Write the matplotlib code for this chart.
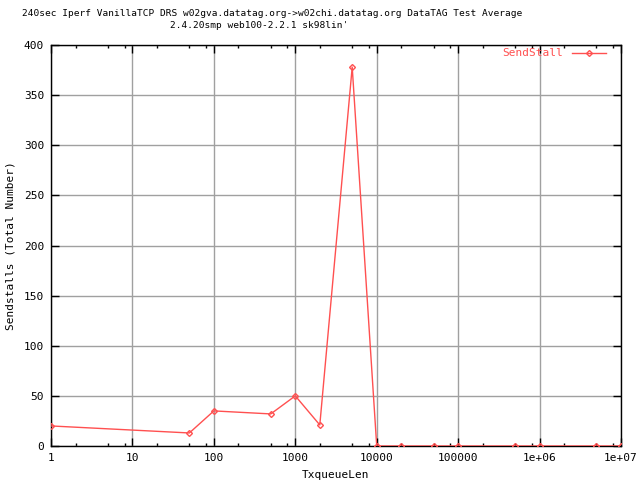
import matplotlib
matplotlib.use("Agg")
import matplotlib.pyplot as plt
from matplotlib.ticker import FixedLocator, LogLocator, NullFormatter

# data
txqueuelen = [1, 50, 100, 500, 1000, 2000, 5000, 10000, 20000, 50000,
              100000, 500000, 1000000, 5000000, 10000000]
sendstalls = [20, 13, 35, 32, 50, 21, 378, 0, 0, 0, 0, 0, 0, 0, 0]

x_ticks = [1, 10, 100, 1000, 10000, 100000, 1000000, 10000000]
x_tick_labels = ["1", "10", "100", "1000", "10000", "100000", "1e+06", "1e+07"]
y_ticks = [0, 50, 100, 150, 200, 250, 300, 350, 400]

title_line1 = "240sec Iperf VanillaTCP DRS w02gva.datatag.org->w02chi.datatag.org DataTAG Test Average"
title_line2 = "2.4.20smp web100-2.2.1 sk98lin'"

plt.rcParams["font.family"] = ["DejaVu Sans Mono"]
plt.rcParams["font.size"] = 8

fig = plt.figure(figsize=(6.4, 4.8), dpi=100)
ax = fig.add_axes([51 / 640, 1 - 446 / 480, 570 / 640, 401 / 480])

red = "#ff5050"
ax.plot(txqueuelen, sendstalls, color=red, linewidth=1, marker="D",
        markersize=3, markerfacecolor="none", markeredgecolor=red,
        markeredgewidth=1, label="SendStall", zorder=3)

ax.set_xscale("log")
ax.set_xlim(1, 1e7)
ax.set_ylim(0, 400)
ax.xaxis.set_major_locator(FixedLocator(x_ticks))
ax.set_xticklabels(x_tick_labels)
ax.xaxis.set_minor_locator(LogLocator(base=10, subs=[2, 5, 8], numticks=20))
ax.xaxis.set_minor_formatter(NullFormatter())
ax.set_yticks(y_ticks)

ax.tick_params(which="both", direction="in", top=True, right=True,
               color="black", pad=5)
ax.tick_params(which="major", length=5.5, width=1)
ax.tick_params(which="minor", length=2.5, width=1)
for s in ax.spines.values():
    s.set_color("black")
    s.set_linewidth(1)

ax.grid(True, which="major", color="#a0a0a0", linewidth=1)
ax.set_axisbelow(True)

ax.set_xlabel("TxqueueLen", labelpad=5)
ax.set_ylabel("Sendstalls (Total Number)", labelpad=6)

leg = ax.legend(loc="upper right", frameon=False, markerfirst=False,
                handlelength=3.1, borderaxespad=0.2,
                bbox_to_anchor=(0.986, 1.008))
for t in leg.get_texts():
    t.set_color(red)

fig.text(272 / 640, 1 - 14 / 480, title_line1, ha="center", va="center",
         fontsize=6.8)
fig.text(259 / 640, 1 - 26 / 480, title_line2, ha="center", va="center",
         fontsize=6.8)

fig.savefig("out.png", dpi=100)
